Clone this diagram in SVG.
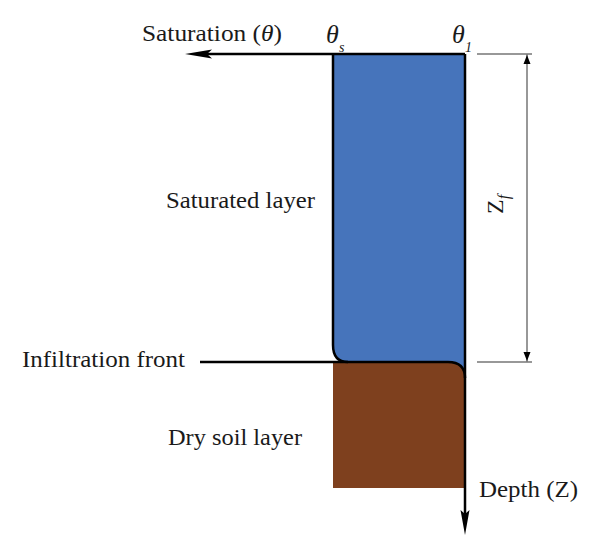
<svg xmlns="http://www.w3.org/2000/svg" width="600" height="558" viewBox="0 0 600 558">
<style>
.t{font-family:"Liberation Serif","Times New Roman",serif;font-size:24px;fill:#1a1a1a}
.ti{font-family:"Liberation Serif","Times New Roman",serif;font-style:italic;fill:#1a1a1a}
.k{fill:none;stroke:#000;stroke-width:2.5}
.g{fill:none;stroke:#777;stroke-width:1.5}
</style>
<rect width="600" height="558" fill="#fff"/>
<g id="dry-soil">
<path d="M333 362 H448 Q465 362 465 378 V488 H333 Z" fill="#7e401e"/>
</g>
<g id="saturated">
<path d="M333 54 H465 V378 Q465 362 448 362 H348 Q333 362 333 345 Z" fill="#4674bb"/>
</g>
<g id="connectors">
<path class="k" d="M465 54 H205"/>
<path d="M185 54 L212 49.5 L207 54 L212 58.5 Z" fill="#000"/>
<path class="k" d="M465 54 V515"/>
<path d="M465 535 L460.5 510 L465 514 L469.5 510 Z" fill="#000"/>
<path class="k" d="M333 54 V345 Q333 362 348 362 H448 Q465 362 465 378"/>
<path class="k" d="M200 362 H348"/>
<path class="g" d="M477 54 H532 M477 362 H532 M527 54 V362"/>
<path d="M527 55 L523.5 64 L530.5 64 Z M527 361 L523.5 352 L530.5 352 Z" fill="#000"/>
</g>
<g id="labels">
<text class="t" x="142" y="41" textLength="140" lengthAdjust="spacingAndGlyphs">Saturation (<tspan font-style="italic">θ</tspan>)</text>
<text class="ti" x="326" y="43" font-size="26">θ</text>
<text class="ti" x="339" y="52" font-size="14">s</text>
<text class="ti" x="452" y="43" font-size="26">θ</text>
<text class="ti" x="465" y="52" font-size="14">1</text>
<text class="t" x="166" y="208" textLength="149" lengthAdjust="spacingAndGlyphs">Saturated layer</text>
<text class="t" x="22" y="367" textLength="163" lengthAdjust="spacingAndGlyphs">Infiltration front</text>
<text class="t" x="168" y="445" textLength="134" lengthAdjust="spacingAndGlyphs">Dry soil layer</text>
<text class="t" x="479" y="497" textLength="99" lengthAdjust="spacingAndGlyphs">Depth (Z)</text>
<text class="t" transform="translate(503 214) rotate(-90)" font-size="25">Z<tspan class="ti" font-size="16" dy="6">f</tspan></text>
</g>
</svg>
